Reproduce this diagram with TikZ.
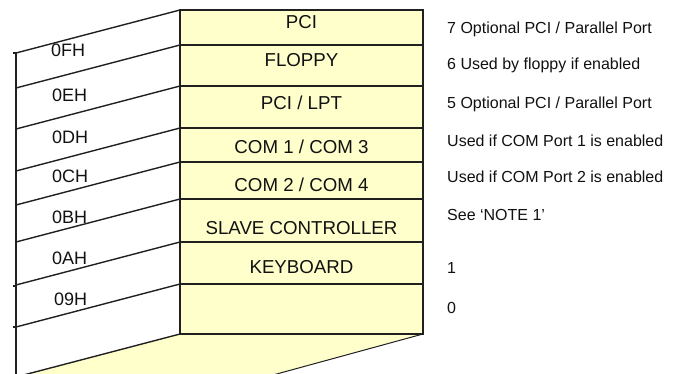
\documentclass[tikz,border=0pt]{standalone}
\usepackage{fontspec}
\setmainfont{Liberation Sans}
\definecolor{cellfill}{HTML}{FFFFCC}
\definecolor{linec}{HTML}{202020}
\definecolor{textc}{HTML}{111111}
\begin{document}
\begin{tikzpicture}[x=1pt,y=-1pt,
  edge/.style={draw=linec, line width=1.4pt},
  frame/.style={draw=linec, line width=1.8pt},
  cell/.style={font=\fontsize{18.7}{20}\selectfont, text=textc, inner sep=0pt,
    text height=13.4pt, text depth=0pt, anchor=center},
  addr/.style={font=\fontsize{18}{20}\selectfont, text=textc, inner sep=0pt,
    text height=12.9pt, text depth=0pt, anchor=west},
  note/.style={font=\fontsize{16}{18}\selectfont, text=textc, inner sep=0pt,
    text height=11.5pt, text depth=0pt, anchor=west}]
\useasboundingbox (0,0) rectangle (676,374);
\begin{scope}
  \clip (0,0) rectangle (676,374);
  % shelf below the register stack
  \fill[cellfill] (180,334) -- (423,334) -- (262,378) -- (16,378) -- cycle;
  \draw[edge] (180,334) -- (16,377);
  \draw[edge, line width=1pt] (423,334) -- (262,378);
  % left wall
  \draw[edge] (16,52) -- (16,376);
  % stack of register cells
  \filldraw[fill=cellfill, frame] (180,10) rectangle (423,334);
  \foreach \y in {45,86,128,162,199,242,284}
    \draw[frame] (180,\y) -- (423,\y);
  % slanted guide lines
  \foreach \y in {10,45,86,128,162,199,242,284}
    \draw[edge] (16,\y+43) -- (180,\y);
  % small ticks on the wall
  \foreach \y in {53,286,327}
    \draw[edge] (13,\y) -- (16,\y);
\end{scope}
% cell contents
\node[cell] (pci)   at (301.5,22)  {PCI};
\node[cell] (flop)  at (301.5,60)  {FLOPPY};
\node[cell] (lpt)   at (301.5,103) {PCI / LPT};
\node[cell] (com13) at (301.5,147) {COM 1 / COM 3};
\node[cell] (com24) at (301.5,185) {COM 2 / COM 4};
\node[cell] (slave) at (301.5,228) {SLAVE CONTROLLER};
\node[cell] (kbd)   at (301.5,267) {KEYBOARD};
% addresses
\node[addr] (a0f) at (51,50)  {0FH};
\node[addr] (a0e) at (52,95)  {0EH};
\node[addr] (a0d) at (52,137) {0DH};
\node[addr] (a0c) at (52,176) {0CH};
\node[addr] (a0b) at (52,217) {0BH};
\node[addr] (a0a) at (52,258) {0AH};
\node[addr] (a09) at (54,299) {09H};
% notes
\node[note] (n7) at (447,28)  {7 Optional PCI / Parallel Port};
\node[note] (n6) at (447,64)  {6 Used by floppy if enabled};
\node[note] (n5) at (447,103) {5 Optional PCI / Parallel Port};
\node[note] (n4) at (447,141) {Used if COM Port 1 is enabled};
\node[note] (n3) at (447,177) {Used if COM Port 2 is enabled};
\node[note] (n2) at (447,215) {See ‘NOTE 1’};
\node[note] (n1) at (447,268) {1};
\node[note] (n0) at (447,308) {0};
\end{tikzpicture}
\end{document}
